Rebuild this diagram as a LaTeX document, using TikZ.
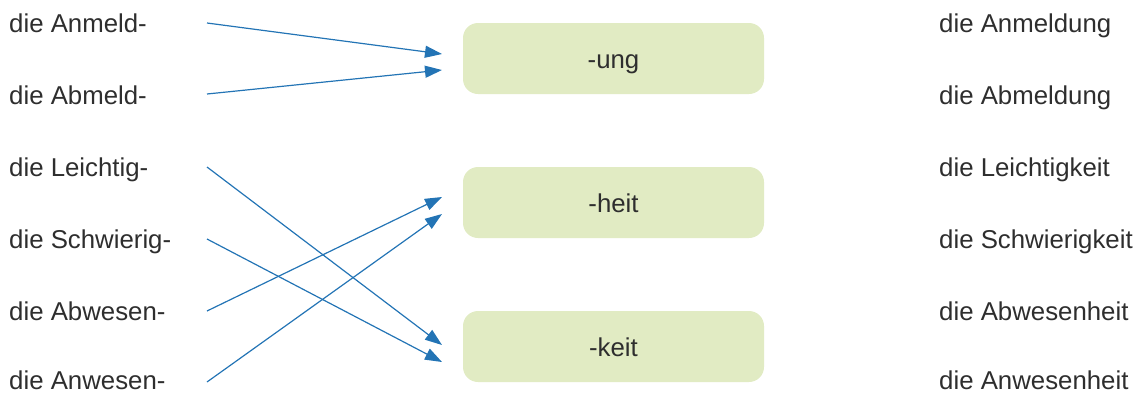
\documentclass[tikz,border=0pt]{standalone}
\usepackage{fontspec}
\setmainfont{Liberation Sans}
\usetikzlibrary{arrows.meta}
\definecolor{boxgreen}{HTML}{E1EBC3}
\definecolor{arrowblue}{HTML}{2374B5}
\definecolor{txt}{HTML}{2E2E2E}
\begin{document}
\begin{tikzpicture}[x=1pt,y=-1pt,
  word/.style={anchor=base west,inner sep=0pt,text=txt,font=\fontsize{25.8}{30}\selectfont},
  suffixbox/.style={fill=boxgreen,rounded corners=15pt,minimum width=301pt,minimum height=71pt,inner sep=0pt,text height=22pt,text depth=3pt,text=txt,font=\fontsize{25.8}{30}\selectfont},
  link/.style={draw=arrowblue,line width=1.2pt,-{Triangle[length=17pt,width=12pt]}}]
\useasboundingbox (0,0) rectangle (1141,394);
% left words
\node[word] (l1) at (9,32) {die Anmeld-};
\node[word] (l2) at (9,104) {die Abmeld-};
\node[word] (l3) at (9,176) {die Leichtig-};
\node[word] (l4) at (9,248) {die Schwierig-};
\node[word] (l5) at (9,320) {die Abwesen-};
\node[word] (l6) at (9,389.5) {die Anwesen-};
% right words
\node[word] (r1) at (939,32) {die Anmeldung};
\node[word] (r2) at (939,104) {die Abmeldung};
\node[word] (r3) at (939,176) {die Leichtigkeit};
\node[word] (r4) at (939,248) {die Schwierigkeit};
\node[word] (r5) at (939,320) {die Abwesenheit};
\node[word] (r6) at (939,389.5) {die Anwesenheit};
% boxes
\node[suffixbox] (ung) at (613.5,58.5) {-ung};
\node[suffixbox] (heit) at (613.5,202.5) {-heit};
\node[suffixbox] (keit) at (613.5,346.5) {-keit};
% connector end points
\coordinate (s1) at (207,23);
\coordinate (s2) at (207,94);
\coordinate (s3) at (207,167);
\coordinate (s4) at (207,239);
\coordinate (s5) at (207,311);
\coordinate (s6) at (207,382);
\coordinate (e1) at (442,54);
\coordinate (e2) at (442,70);
\coordinate (e3) at (442,197);
\coordinate (e4) at (442,214);
\coordinate (e5) at (442,345);
\coordinate (e6) at (442,362);
\draw[link] (s1) -- (e1);
\draw[link] (s2) -- (e2);
\draw[link] (s3) -- (e5);
\draw[link] (s4) -- (e6);
\draw[link] (s5) -- (e3);
\draw[link] (s6) -- (e4);
\end{tikzpicture}
\end{document}
